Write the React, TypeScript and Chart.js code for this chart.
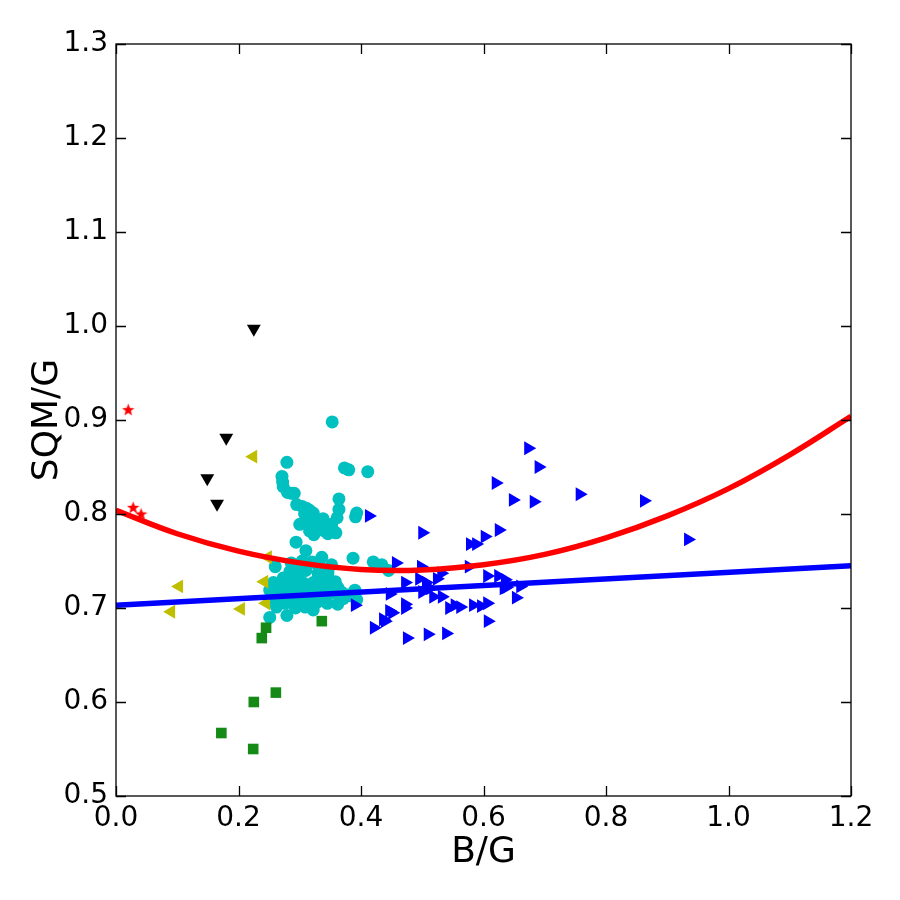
import { useEffect, useRef } from "react";
import { Chart, registerables } from "chart.js";

Chart.register(...registerables);

// Axis ticks
const xTickValues = [0, 0.2, 0.4, 0.6, 0.8, 1.0, 1.2];
const yTickValues = [0.5, 0.6, 0.7, 0.8, 0.9, 1.0, 1.1, 1.2, 1.3];

// Quadratic fit (red) and linear fit (blue), sampled along B/G
const curveX = [0, 0.1, 0.2, 0.3, 0.4, 0.5, 0.6, 0.7, 0.8, 0.9, 1.0, 1.1, 1.2];
const curveY = [0.804, 0.779, 0.7605, 0.748, 0.741, 0.7405, 0.746, 0.757, 0.7746, 0.798, 0.827, 0.863, 0.904];
const lineX = [0, 1.2];
const lineY = [0.703, 0.745];

// Groups of measurements: [B/G, SQM/G]
const redStars: number[][] = [
  [0.020, 0.911], [0.028, 0.807], [0.041, 0.800],
];
const blackDown: number[][] = [
  [0.225, 0.997], [0.180, 0.881], [0.149, 0.838], [0.165, 0.811],
];
const yellowLeft: number[][] = [
  [0.224, 0.861], [0.103, 0.723], [0.090, 0.696], [0.204, 0.699],
  [0.242, 0.728], [0.245, 0.705], [0.248, 0.754],
];
const greenSquares: number[][] = [
  [0.172, 0.567], [0.224, 0.550], [0.225, 0.600], [0.261, 0.610],
  [0.238, 0.668], [0.245, 0.679], [0.336, 0.686],
];
const cyanCircles: number[][] = [
  [0.353, 0.898], [0.279, 0.855], [0.373, 0.849], [0.380, 0.847], [0.411, 0.845],
  [0.271, 0.840], [0.272, 0.834], [0.273, 0.829], [0.280, 0.823], [0.287, 0.822],
  [0.291, 0.822], [0.364, 0.816], [0.295, 0.810], [0.364, 0.805], [0.304, 0.808],
  [0.311, 0.806], [0.316, 0.804], [0.322, 0.801], [0.308, 0.800], [0.315, 0.797],
  [0.326, 0.795], [0.331, 0.792], [0.336, 0.790], [0.341, 0.788], [0.347, 0.786],
  [0.352, 0.789], [0.319, 0.791], [0.327, 0.787], [0.333, 0.784], [0.340, 0.782],
  [0.346, 0.779], [0.300, 0.789], [0.316, 0.782], [0.323, 0.778], [0.359, 0.780],
  [0.361, 0.796], [0.353, 0.784], [0.338, 0.795], [0.393, 0.801], [0.391, 0.797],
  [0.294, 0.770], [0.310, 0.761], [0.329, 0.789], [0.313, 0.793],
  [0.387, 0.753], [0.420, 0.749], [0.434, 0.746], [0.445, 0.740], [0.336, 0.754],
  [0.304, 0.750], [0.286, 0.748], [0.320, 0.749], [0.328, 0.747], [0.260, 0.744],
  [0.287, 0.738], [0.330, 0.737], [0.346, 0.737], [0.273, 0.732], [0.296, 0.732],
  [0.257, 0.727], [0.322, 0.727], [0.338, 0.727], [0.358, 0.728], [0.279, 0.725],
  [0.295, 0.723], [0.362, 0.722], [0.251, 0.719], [0.268, 0.719], [0.309, 0.719],
  [0.344, 0.719], [0.390, 0.719], [0.336, 0.716], [0.336, 0.712], [0.353, 0.716],
  [0.376, 0.714], [0.393, 0.709], [0.257, 0.709], [0.285, 0.711], [0.301, 0.711],
  [0.328, 0.706], [0.345, 0.705], [0.362, 0.704], [0.262, 0.701], [0.293, 0.700],
  [0.309, 0.701], [0.322, 0.698], [0.251, 0.690], [0.279, 0.692], [0.267, 0.726],
  [0.263, 0.721], [0.283, 0.716], [0.290, 0.729], [0.300, 0.720], [0.315, 0.713],
  [0.326, 0.723], [0.340, 0.731], [0.350, 0.724], [0.368, 0.717], [0.371, 0.710],
  [0.380, 0.713], [0.255, 0.716], [0.270, 0.712], [0.276, 0.705], [0.292, 0.714],
  [0.305, 0.727], [0.318, 0.705], [0.333, 0.744], [0.352, 0.746], [0.310, 0.740],
  [0.298, 0.743], [0.284, 0.739], [0.364, 0.712],
];
const blueRight: number[][] = [
  [0.673, 0.870], [0.690, 0.850], [0.620, 0.833], [0.648, 0.815], [0.682, 0.813],
  [0.757, 0.821], [0.862, 0.814], [0.934, 0.773], [0.413, 0.798], [0.500, 0.780],
  [0.625, 0.783], [0.602, 0.776], [0.578, 0.768], [0.588, 0.768], [0.457, 0.748],
  [0.498, 0.744], [0.576, 0.744], [0.531, 0.737], [0.606, 0.734], [0.624, 0.734],
  [0.495, 0.731], [0.524, 0.731], [0.472, 0.727], [0.506, 0.727], [0.635, 0.730],
  [0.660, 0.723], [0.637, 0.722], [0.500, 0.717], [0.513, 0.721], [0.447, 0.715],
  [0.653, 0.711], [0.518, 0.712], [0.532, 0.712], [0.472, 0.704], [0.472, 0.700],
  [0.390, 0.703], [0.544, 0.700], [0.553, 0.703], [0.562, 0.701], [0.583, 0.703],
  [0.596, 0.702], [0.606, 0.705], [0.446, 0.697], [0.451, 0.695], [0.436, 0.688],
  [0.439, 0.686], [0.607, 0.686], [0.421, 0.679], [0.475, 0.668], [0.509, 0.672],
  [0.539, 0.673], [0.633, 0.721],
];

const FONT = "'DejaVu Sans', sans-serif";

const toPoints = (rows: number[][]) => rows.map(([x, y]) => ({ x, y }));
const zipPoints = (xs: number[], ys: number[]) => xs.map((x, i) => ({ x, y: ys[i] }));

function makeStar(size: number, color: string): HTMLCanvasElement {
  const c = document.createElement("canvas");
  c.width = size;
  c.height = size;
  const g = c.getContext("2d")!;
  const cx = size / 2;
  const cy = size / 2 + 0.5;
  const R = size / 2;
  const r = R * 0.42;
  g.beginPath();
  for (let i = 0; i < 10; i++) {
    const a = -Math.PI / 2 + (i * Math.PI) / 5;
    const rr = i % 2 ? r : R;
    g.lineTo(cx + rr * Math.cos(a), cy + rr * Math.sin(a));
  }
  g.closePath();
  g.fillStyle = color;
  g.fill();
  return c;
}

// Box around the plot area with inward ticks on all four sides
const framePlugin = {
  id: "frame",
  afterDraw(chart: any) {
    const { ctx, chartArea } = chart;
    const { left, right, top, bottom } = chartArea;
    const xs = chart.scales.x;
    const ys = chart.scales.y;
    const len = 10;
    ctx.save();
    ctx.strokeStyle = "#000";
    ctx.lineWidth = 1.3;
    ctx.beginPath();
    for (const v of xTickValues) {
      const px = Math.round(xs.getPixelForValue(v)) + 0.5;
      ctx.moveTo(px, bottom);
      ctx.lineTo(px, bottom - len);
      ctx.moveTo(px, top);
      ctx.lineTo(px, top + len);
    }
    for (const v of yTickValues) {
      const py = Math.round(ys.getPixelForValue(v)) + 0.5;
      ctx.moveTo(left, py);
      ctx.lineTo(left + len, py);
      ctx.moveTo(right, py);
      ctx.lineTo(right - len, py);
    }
    ctx.stroke();
    ctx.strokeRect(left, top, right - left, bottom - top);
    ctx.restore();
  },
};

export default function App() {
  const canvasRef = useRef<HTMLCanvasElement | null>(null);

  useEffect(() => {
    if (!canvasRef.current) return;
    const star = makeStar(13, "#ff0000");

    const chart = new Chart(canvasRef.current, {
      type: "scatter",
      data: {
        datasets: [
          {
            type: "line",
            label: "quadratic",
            data: zipPoints(curveX, curveY),
            borderColor: "#ff0000",
            borderWidth: 5.5,
            pointRadius: 0,
            tension: 0.4,
            fill: false,
            order: 0,
          } as any,
          {
            type: "line",
            label: "linear",
            data: zipPoints(lineX, lineY),
            borderColor: "#0000ff",
            borderWidth: 5.5,
            pointRadius: 0,
            fill: false,
            order: 1,
          } as any,
          {
            label: "blue",
            data: toPoints(blueRight),
            pointStyle: "triangle",
            rotation: 90,
            pointRadius: 8,
            backgroundColor: "#0000ff",
            borderWidth: 0,
            order: 2,
          },
          {
            label: "green",
            data: toPoints(greenSquares),
            pointStyle: "rect",
            pointRadius: 7.5,
            backgroundColor: "#168a16",
            borderWidth: 0,
            order: 3,
          },
          {
            label: "yellow",
            data: toPoints(yellowLeft),
            pointStyle: "triangle",
            rotation: -90,
            pointRadius: 8,
            backgroundColor: "#bfbf00",
            borderWidth: 0,
            order: 4,
          },
          {
            label: "cyan",
            data: toPoints(cyanCircles),
            pointStyle: "circle",
            pointRadius: 6.5,
            backgroundColor: "#00c0c0",
            borderWidth: 0,
            order: 5,
          },
          {
            label: "black",
            data: toPoints(blackDown),
            pointStyle: "triangle",
            rotation: 180,
            pointRadius: 8,
            backgroundColor: "#000000",
            borderWidth: 0,
            order: 6,
          },
          {
            label: "red",
            data: toPoints(redStars),
            pointStyle: star,
            pointRadius: 6,
            backgroundColor: "#ff0000",
            borderWidth: 0,
            order: 7,
          },
        ],
      },
      options: {
        animation: false,
        responsive: false,
        maintainAspectRatio: false,
        layout: { padding: { top: 44, right: 49, left: 0, bottom: 0 } },
        plugins: {
          legend: { display: false },
          tooltip: { enabled: false },
        },
        scales: {
          x: {
            type: "linear",
            min: 0,
            max: 1.2,
            afterBuildTicks: (scale: any) => {
              scale.ticks = xTickValues.map((v) => ({ value: v }));
            },
            afterFit: (scale: any) => {
              scale.height = 104;
            },
            grid: { display: false, drawTicks: false },
            border: { display: false },
            ticks: {
              padding: 6,
              color: "#000",
              font: { family: FONT, size: 28 },
              callback: (v: any) => Number(v).toFixed(1),
              maxRotation: 0,
            },
            title: {
              display: true,
              text: "B/G",
              color: "#000",
              font: { family: FONT, size: 36 },
              padding: { top: 0, bottom: 26 },
            },
          },
          y: {
            type: "linear",
            min: 0.5,
            max: 1.3,
            afterBuildTicks: (scale: any) => {
              scale.ticks = yTickValues.map((v) => ({ value: v }));
            },
            afterFit: (scale: any) => {
              scale.width = 116;
            },
            grid: { display: false, drawTicks: false },
            border: { display: false },
            ticks: {
              padding: 8,
              color: "#000",
              font: { family: FONT, size: 28 },
              callback: (v: any) => Number(v).toFixed(1),
            },
            title: {
              display: true,
              text: "SQM/G",
              color: "#000",
              font: { family: FONT, size: 36 },
              padding: { top: 26, bottom: 0 },
            },
          },
        },
      },
      plugins: [framePlugin],
    });

    return () => chart.destroy();
  }, []);

  return (
    <div style={{ position: "absolute", left: 0, top: 0, width: 900, height: 900, background: "#fff" }}>
      <canvas ref={canvasRef} width={900} height={900} style={{ width: 900, height: 900, display: "block" }} />
    </div>
  );
}
